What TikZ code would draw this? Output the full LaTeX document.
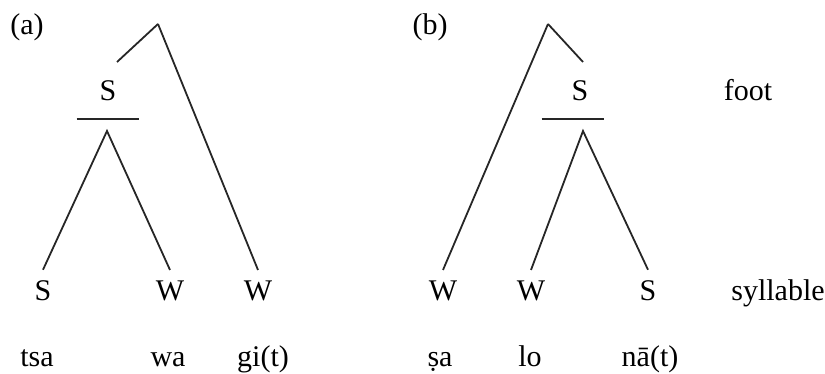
\documentclass[tikz,border=0pt]{standalone}
\usepackage{fontspec}
\setmainfont{Liberation Serif}
\usetikzlibrary{positioning}

\begin{document}
\begin{tikzpicture}[
		x=0.5pt, y=-0.5pt,
		every node/.style={font=\fontsize{15}{18}\selectfont, anchor=base},
		tag/.style={inner sep=5pt},
		foot/.style={minimum width=31pt, inner xsep=0pt, inner ysep=8.5pt},
		branch/.style={line width=0.9pt, black!85}
		]
		\useasboundingbox (0,0) rectangle (825,374);
		
		% (a)
		\node (labA) at (27,35) {(a)};
		\coordinate (topA) at (158,24);
		\coordinate (stubA) at (117,62);
		\node[foot] (footA) at (108,101) {S};
		\coordinate (innA) at (107,131);
		\node[tag] (sA) at (43,300) {S};
		\node[tag] (wA) at (170,300) {W};
		\node[tag] (wwA) at (258,300) {W};
		\node (tsa) at (37,366) {tsa};
		\node (wa) at (168,366) {wa};
		\node (gi) at (263,366) {gi(t)};
		
		% (b)
		\node (labB) at (430,35) {(b)};
		\coordinate (topB) at (548,24);
		\coordinate (stubB) at (583,62);
		\node[foot] (footB) at (573,101) {\hspace*{7pt}S};
		\coordinate (innB) at (583,131);
		\node[tag] (wB) at (443,300) {W};
		\node[tag] (wwB) at (531,300) {W};
		\node[tag] (sB) at (648,300) {S};
		\node (sa) at (440,366) {ṣa};
		\node (lo) at (530,366) {lo};
		\node (na) at (650,366) {nā(t)};
		
		% level names
		\node (foot) at (748,101) {foot};
		\node (syl) at (778,300) {syllable};
		
		% Branches
		\draw[branch] (footA.south west) -- (footA.south east);
		\draw[branch] (topA) -- (stubA);
		\draw[branch] (topA) -- (wwA.north);
		\draw[branch] (sA.north) -- (innA) -- (wA.north);
		
		\draw[branch] (footB.south west) -- (footB.south east);
		\draw[branch] (topB) -- (stubB);
		\draw[branch] (topB) -- (wB.north);
		\draw[branch] (wwB.north) -- (innB) -- (sB.north);
		
	\end{tikzpicture}
\end{document}
